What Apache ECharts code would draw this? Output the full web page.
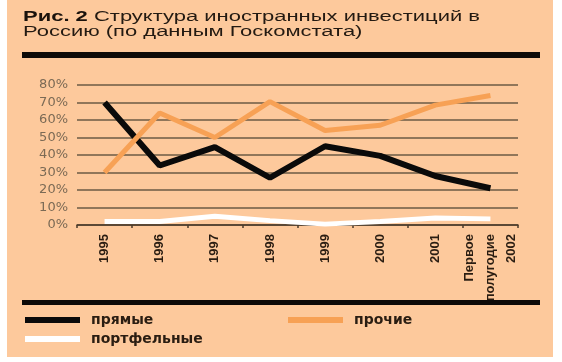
<!DOCTYPE html>
<html>
<head>
<meta charset="utf-8">
<script src="https://cdn.jsdelivr.net/npm/echarts@6/dist/echarts.min.js"></script>
<style>
html,body{margin:0;padding:0;background:#ffffff;}
#chart{width:562px;height:362px;}
</style>
</head>
<body>
<div id="chart"></div>
<script>
const categories = ['1995', '1996', '1997', '1998', '1999', '2000', '2001', 'Первое\nполугодие\n2002'];
const direct = [70, 34, 44.5, 27, 45, 39.5, 28, 21];
const other = [30, 64, 50, 70.5, 54, 57, 68.5, 74];
const portfolio = [2, 2, 5, 2.5, 0.5, 2, 4, 3.5];
const seriesNames = ['прямые', 'прочие', 'портфельные'];
const titleBold = 'Рис. 2';
const titleLine1 = 'Структура иностранных инвестиций в';
const titleLine2 = 'Россию (по данным Госкомстата)';

const chart = echarts.init(document.getElementById('chart'), null, {renderer: 'canvas'});
const legendText = {fontFamily: 'DejaVu Sans', fontWeight: 'bold', fontSize: 14, color: '#2a1d12', padding: [0, 0, 0, 6]};
const legendCommon = {icon: 'rect', itemWidth: 55, itemHeight: 6, itemGap: 12, textStyle: legendText, padding: 0,
  itemStyle: {borderWidth: 0}, lineStyle: {width: 0}};
const option = {
  backgroundColor: '#ffffff',
  animation: false,
  graphic: [
    {type: 'rect', z: -10, shape: {x: 7, y: 0, width: 546, height: 357}, style: {fill: '#FDC99C'}},
    {type: 'rect', z: 5, shape: {x: 22, y: 52, width: 518, height: 6}, style: {fill: '#0d0a08'}},
    {type: 'rect', z: 5, shape: {x: 22, y: 300, width: 518, height: 5}, style: {fill: '#0d0a08'}},
    {type: 'text', z: 5, x: 23, y: 10, scaleX: 1.57,
      style: {
        text: '{b|' + titleBold + '} ' + titleLine1 + '\n' + titleLine2,
        fontFamily: 'Liberation Sans', fontSize: 14, lineHeight: 15, fill: '#231a12',
        rich: {b: {fontFamily: 'Liberation Sans', fontSize: 14, fontWeight: 'bold', fill: '#1a120c', lineHeight: 15}}
      }}
  ],
  legend: [
    Object.assign({data: [seriesNames[0]], left: 25, top: 313}, legendCommon),
    Object.assign({data: [seriesNames[1]], left: 288, top: 313}, legendCommon),
    Object.assign({data: [seriesNames[2]], left: 25, top: 332}, legendCommon)
  ],
  grid: {left: 77, right: 44, top: 85, bottom: 137, containLabel: false},
  xAxis: {
    type: 'category',
    data: categories,
    boundaryGap: true,
    axisLine: {show: true, lineStyle: {color: '#4a3a2a', width: 1.5}},
    axisTick: {show: true, length: 3, lineStyle: {color: '#4a3a2a', width: 1.5}},
    axisLabel: {rotate: 90, margin: 9, interval: 0, fontFamily: 'Liberation Sans Narrow, Liberation Sans, sans-serif', fontWeight: 'bold', fontSize: 13, lineHeight: 21, color: '#2a1d12'},
    splitLine: {show: false}
  },
  yAxis: {
    type: 'value',
    min: 0, max: 80, interval: 10,
    axisLine: {show: false},
    axisTick: {show: false},
    axisLabel: {formatter: '{value}%', margin: 9, fontFamily: 'DejaVu Sans', fontSize: 13, color: '#7b6a55'},
    splitLine: {show: true, lineStyle: {color: '#6b5a45', width: 1.5}}
  },
  series: [
    {name: seriesNames[0], type: 'line', data: direct, showSymbol: false, symbol: 'none', z: 3, lineStyle: {color: '#0a0a0a', width: 6}, itemStyle: {color: '#0a0a0a'}},
    {name: seriesNames[1], type: 'line', data: other, showSymbol: false, symbol: 'none', z: 4, lineStyle: {color: '#F7A155', width: 5}, itemStyle: {color: '#F7A155'}},
    {name: seriesNames[2], type: 'line', data: portfolio, showSymbol: false, symbol: 'none', z: 2, lineStyle: {color: '#ffffff', width: 5}, itemStyle: {color: '#ffffff'}}
  ]
};
chart.setOption(option);
</script>
</body>
</html>
